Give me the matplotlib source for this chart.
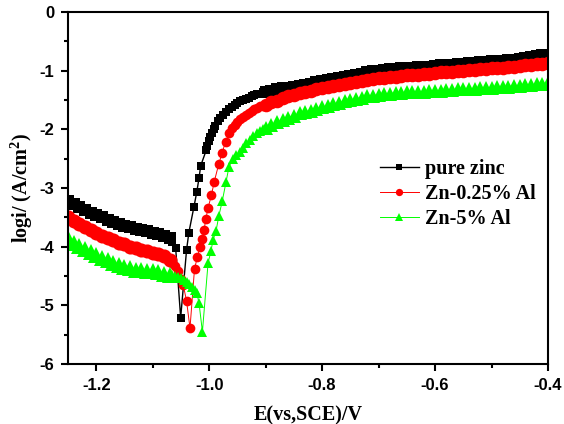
import matplotlib
matplotlib.use("Agg")
import matplotlib.pyplot as plt
from matplotlib.ticker import MultipleLocator

plt.rcParams["mathtext.fontset"] = "custom"
plt.rcParams["mathtext.bf"] = "Liberation Serif:bold"
plt.rcParams["mathtext.rm"] = "Liberation Serif:bold"

# shared potential grids (V vs SCE)
e_cath = [-1.25, -1.24, -1.23, -1.22, -1.21, -1.20, -1.19, -1.18, -1.17, -1.16,
          -1.15, -1.14, -1.13, -1.12, -1.11, -1.10, -1.09, -1.08, -1.07]
e_anod = [-0.90, -0.89, -0.88, -0.87, -0.86, -0.85, -0.84, -0.83, -0.82, -0.81,
          -0.80, -0.79, -0.78, -0.77, -0.76, -0.75, -0.74, -0.73, -0.72, -0.71,
          -0.70, -0.69, -0.68, -0.67, -0.66, -0.65, -0.64, -0.63, -0.62, -0.61,
          -0.60, -0.59, -0.58, -0.57, -0.56, -0.55, -0.54, -0.53, -0.52, -0.51,
          -0.50, -0.49, -0.48, -0.47, -0.46, -0.45, -0.44, -0.43, -0.42, -0.41,
          -0.40]

# pure zinc
zn_cath = [-3.22, -3.28, -3.33, -3.38, -3.42, -3.46, -3.50, -3.54, -3.58, -3.61,
           -3.64, -3.67, -3.70, -3.72, -3.74, -3.76, -3.78, -3.81, -3.85]
zn_mid_e = [-1.065, -1.0594, -1.0505, -1.040, -1.036, -1.027, -1.022, -1.018, -1.015,
            -1.005, -1.003, -1.000, -0.998, -0.995, -0.992, -0.990, -0.985, -0.980,
            -0.975, -0.970, -0.965, -0.960, -0.955, -0.950, -0.945, -0.940, -0.935,
            -0.930, -0.925, -0.920, -0.915, -0.910, -0.905]
zn_mid_i = [-3.92, -4.02, -5.21, -4.05, -3.76, -3.32, -3.07, -2.83, -2.62,
            -2.35, -2.28, -2.20, -2.13, -2.06, -1.99, -1.94, -1.86, -1.80,
            -1.75, -1.70, -1.66, -1.62, -1.58, -1.55, -1.52, -1.50, -1.48,
            -1.46, -1.44, -1.42, -1.40, -1.39, -1.37]
zn_anod = [-1.36, -1.34, -1.32, -1.30, -1.29, -1.27, -1.26, -1.24, -1.22, -1.20,
           -1.18, -1.16, -1.14, -1.12, -1.10, -1.09, -1.07, -1.05, -1.03, -1.01,
           -1.00, -0.99, -0.98, -0.97, -0.96, -0.95, -0.95, -0.94, -0.93, -0.93,
           -0.92, -0.91, -0.90, -0.90, -0.89, -0.88, -0.87, -0.87, -0.86, -0.85,
           -0.84, -0.84, -0.83, -0.82, -0.81, -0.80, -0.79, -0.77, -0.75, -0.74,
           -0.73]

# Zn-0.25% Al
al025_cath = [-3.49, -3.56, -3.62, -3.67, -3.72, -3.77, -3.81, -3.85, -3.89, -3.93,
              -3.96, -4.00, -4.03, -4.05, -4.08, -4.10, -4.13, -4.16, -4.22]
al025_mid_e = [-1.065, -1.060, -1.055, -1.050, -1.046, -1.040, -1.034, -1.026, -1.021,
               -1.016, -1.012, -1.009, -1.006, -1.002, -0.996, -0.991, -0.983, -0.977,
               -0.971, -0.965, -0.960, -0.955, -0.950, -0.945, -0.940, -0.935, -0.930,
               -0.925, -0.920, -0.915, -0.910, -0.905]
al025_mid_i = [-4.27, -4.33, -4.42, -4.55, -4.65, -4.93, -5.39, -4.38, -4.18,
               -4.00, -3.87, -3.71, -3.53, -3.34, -3.12, -2.89, -2.59, -2.40,
               -2.21, -2.07, -1.98, -1.92, -1.87, -1.83, -1.79, -1.75, -1.72,
               -1.69, -1.66, -1.63, -1.61, -1.60]
al025_anod = [-1.58, -1.54, -1.51, -1.47, -1.44, -1.41, -1.38, -1.36, -1.34, -1.32,
              -1.30, -1.28, -1.26, -1.24, -1.22, -1.21, -1.19, -1.17, -1.16, -1.14,
              -1.13, -1.12, -1.11, -1.10, -1.09, -1.08, -1.07, -1.07, -1.06, -1.05,
              -1.04, -1.03, -1.02, -1.02, -1.01, -1.00, -0.99, -0.99, -0.98, -0.97,
              -0.96, -0.96, -0.95, -0.94, -0.93, -0.92, -0.91, -0.90, -0.89, -0.88,
              -0.87]

# Zn-5% Al
al5_cath = [-3.86, -3.93, -3.99, -4.04, -4.09, -4.14, -4.19, -4.23, -4.27, -4.31,
            -4.34, -4.37, -4.39, -4.40, -4.41, -4.42, -4.44, -4.46, -4.48]
al5_mid_e = [-1.065, -1.060, -1.055, -1.050, -1.045, -1.040, -1.035, -1.030, -1.026,
             -1.022, -1.018, -1.012, -1.002, -0.997, -0.993, -0.988, -0.983, -0.977,
             -0.970, -0.965, -0.958, -0.952, -0.946, -0.940, -0.934, -0.928, -0.922,
             -0.916, -0.910, -0.905]
al5_mid_i = [-4.49, -4.50, -4.52, -4.54, -4.57, -4.60, -4.64, -4.69, -4.74,
             -4.79, -4.96, -5.45, -4.28, -4.08, -3.88, -3.74, -3.48, -3.23,
             -2.89, -2.64, -2.50, -2.44, -2.38, -2.31, -2.24, -2.18, -2.12,
             -2.07, -2.03, -2.00]
al5_anod = [-1.97, -1.92, -1.88, -1.84, -1.80, -1.77, -1.73, -1.70, -1.68, -1.65,
            -1.62, -1.60, -1.57, -1.55, -1.52, -1.50, -1.48, -1.46, -1.44, -1.43,
            -1.41, -1.40, -1.39, -1.38, -1.38, -1.37, -1.37, -1.36, -1.36, -1.35,
            -1.35, -1.34, -1.33, -1.33, -1.32, -1.32, -1.31, -1.31, -1.30, -1.30,
            -1.29, -1.28, -1.28, -1.27, -1.26, -1.26, -1.25, -1.24, -1.23, -1.22,
            -1.21]

labels = ["pure zinc", "Zn-0.25% Al", "Zn-5% Al"]

series = [
    (zn_mid_e, zn_cath, zn_mid_i, zn_anod, "black", "s", 6.0, 1.0),
    (al025_mid_e, al025_cath, al025_mid_i, al025_anod, "#ff0000", "o", 7.0, 0.7),
    (al5_mid_e, al5_cath, al5_mid_i, al5_anod, "#00ff00", "^", 7.6, 0.7),
]

fig = plt.figure(figsize=(5.64, 4.24), dpi=100)
ax = fig.add_axes([0.1206, 0.1415, 0.851, 0.8302])

for (mid_e, cath, mid_i, anod, col, mk, ms, lw), lab in zip(series, labels):
    e = e_cath + mid_e + e_anod
    i = cath + mid_i + anod
    ax.plot(e, i, color=col, lw=lw, marker=mk, ms=ms, mec=col, mfc=col,
            mew=0, label=lab)
    # the densely sampled branches read as thicker bands
    ax.plot(e_cath, cath, ls="none", marker=mk, ms=ms * 1.45, mec=col, mfc=col, mew=0)
    ax.plot(e_anod, anod, ls="none", marker=mk, ms=ms * 1.4, mec=col, mfc=col, mew=0)

ax.set_xlim(-1.25, -0.4)
ax.set_ylim(-6, 0)
ax.xaxis.set_minor_locator(MultipleLocator(0.1))
ax.yaxis.set_minor_locator(MultipleLocator(0.5))
ax.set_xticks([-1.2, -1.0, -0.8, -0.6, -0.4])
ax.set_xticklabels(["-1.2", "-1.0", "-0.8", "-0.6", "-0.4"])
ax.set_yticks([0, -1, -2, -3, -4, -5, -6])
ax.set_yticklabels(["0", "-1", "-2", "-3", "-4", "-5", "-6"])

ax.tick_params(which="both", direction="out", width=1.5, top=False, right=False)
ax.tick_params(which="major", length=5, pad=5)
ax.tick_params(which="minor", length=3)
for lbl in ax.get_xticklabels() + ax.get_yticklabels():
    lbl.set_fontfamily("Liberation Sans")
    lbl.set_fontweight("bold")
    lbl.set_fontsize(12)
for s in ax.spines.values():
    s.set_linewidth(1.5)

ax.set_xlabel("E(vs,SCE)/V", fontfamily="Liberation Serif", fontweight="bold",
              fontsize=14.5, labelpad=9)
ax.set_ylabel(r"logi/ (A/cm$^\mathbf{2}$)", fontfamily="Liberation Serif",
              fontweight="bold", fontsize=14.5, labelpad=3)

ax.legend(loc="upper left", bbox_to_anchor=(0.613, 0.634), frameon=False,
          prop={"family": "Liberation Serif", "weight": "bold", "size": 14.5},
          handlelength=1.9, handletextpad=0.3, labelspacing=0.25, markerscale=0.75)

fig.savefig("out.png", dpi=100)
